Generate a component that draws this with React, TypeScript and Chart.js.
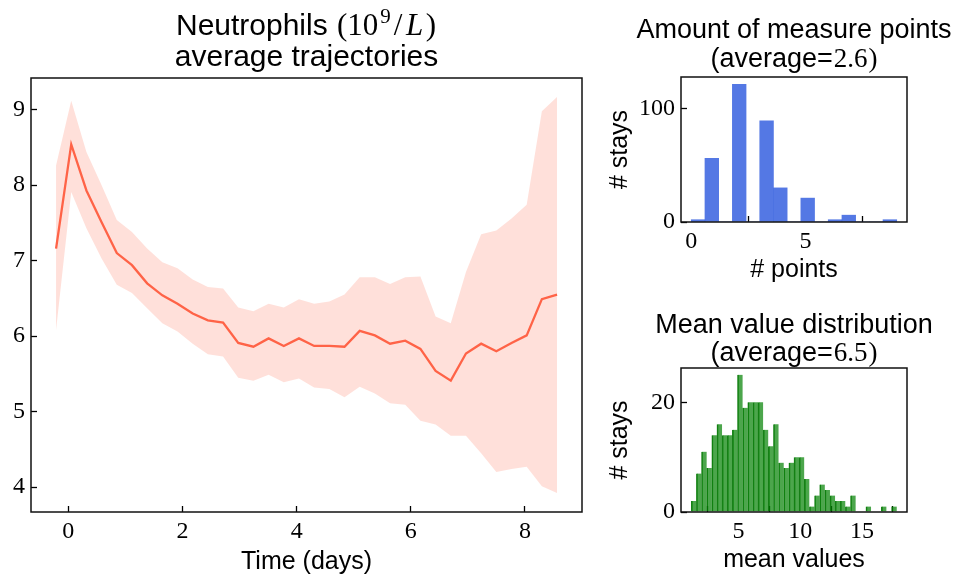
import React, { useEffect, useRef } from "react";
import { Chart, registerables } from "chart.js";

Chart.register(...registerables);

// ---------- data ----------
const timeDays = [
  -0.215, 0.051, 0.317, 0.583, 0.849, 1.115, 1.381, 1.647, 1.913, 2.179, 2.445, 2.711,
  2.977, 3.243, 3.509, 3.775, 4.041, 4.307, 4.573, 4.839, 5.105, 5.371, 5.637, 5.903,
  6.169, 6.435, 6.701, 6.967, 7.233, 7.499, 7.765, 8.031, 8.297, 8.563,
];
const meanValues = [
  7.16, 8.54, 7.93, 7.51, 7.1, 6.94, 6.7, 6.54, 6.43, 6.3, 6.21, 6.18, 5.91, 5.86, 5.97,
  5.87, 5.97, 5.87, 5.87, 5.86, 6.07, 6.01, 5.9, 5.94, 5.83, 5.54, 5.41, 5.77, 5.9, 5.8,
  5.91, 6.01, 6.49, 6.55,
];
const upperValues = [
  8.26, 9.12, 8.44, 8.0, 7.54, 7.38, 7.16, 6.98, 6.9, 6.75, 6.65, 6.63, 6.38, 6.33, 6.43,
  6.38, 6.49, 6.43, 6.46, 6.55, 6.78, 6.78, 6.69, 6.78, 6.79, 6.26, 6.17, 6.85, 7.35, 7.4,
  7.56, 7.74, 8.98, 9.17,
];
const lowerValues = [
  6.08, 7.91, 7.43, 7.03, 6.68, 6.57, 6.37, 6.17, 6.06, 5.9, 5.76, 5.73, 5.45, 5.41, 5.49,
  5.39, 5.44, 5.32, 5.3, 5.19, 5.33, 5.24, 5.11, 5.09, 4.88, 4.83, 4.68, 4.68, 4.45, 4.2,
  4.24, 4.27, 4.01, 3.92,
];
const timeTicks = [0, 2, 4, 6, 8];
const valueTicks = [4, 5, 6, 7, 8, 9];

const pointBins = [0.3, 0.9, 1.5, 2.1, 2.7, 3.3, 3.9, 4.5, 5.1, 5.7, 6.3, 6.9, 7.5, 8.1, 8.7];
const pointCounts = [2, 56, 0, 121, 0, 89, 30, 0, 21, 0, 2, 6, 0, 0, 2];
const pointXTicks = [0, 5];
const pointYTicks = [0, 100];

const meanBins = [
  1.388, 1.804, 2.22, 2.636, 3.052, 3.468, 3.884, 4.3, 4.716, 5.132, 5.548, 5.964, 6.38,
  6.796, 7.212, 7.628, 8.044, 8.46, 8.876, 9.292, 9.708, 10.124, 10.54, 10.956, 11.372,
  11.788, 12.204, 12.62, 13.036, 13.452, 13.868, 14.284, 14.7, 15.116, 15.532, 15.948,
  16.364, 16.78, 17.196, 17.612,
];
const meanCounts = [
  2, 7, 11, 8, 14, 16, 14, 14, 15, 25, 19, 20, 20, 20, 15, 12, 16, 9, 8, 9, 10, 10, 6, 1,
  3, 5, 4, 3, 2, 2, 1, 3, 0, 0, 1, 0, 0, 1, 0, 1,
];
const meanXTicks = [5, 10, 15];
const meanYTicks = [0, 20];

// ---------- styles ----------
const SANS = '"Liberation Sans", Arial, sans-serif';
const SERIF = '"Liberation Serif", "Times New Roman", serif';
const F_MAIN = `30px ${SANS}`;
const F_MAIN_M = `31px ${SERIF}`;
const F_MAIN_MI = `italic 31px ${SERIF}`;
const F_MAIN_SUP = `21px ${SERIF}`;
const F_SUB = `27px ${SANS}`;
const F_SUB_M = `27px ${SERIF}`;
const TOMATO = "#ff6347";
const BAND = "rgba(255,99,71,0.2)";
const BLUE = "rgba(65,105,225,0.9)";
const GREEN = "rgba(0,128,0,0.7)";
const GREEN_EDGE = "rgba(0,115,0,0.9)";

type Run = { text: string; font: string; dy?: number; dx?: number };
type TLine = { baseline: number; runs: Run[] };

function titlePlugin(id: string, lines: TLine[]) {
  return {
    id,
    afterDraw(chart: any) {
      const { ctx, chartArea } = chart;
      const cx = (chartArea.left + chartArea.right) / 2;
      ctx.save();
      ctx.fillStyle = "#000";
      ctx.textBaseline = "alphabetic";
      ctx.textAlign = "left";
      for (const line of lines) {
        let total = 0;
        const widths = line.runs.map((r) => {
          ctx.font = r.font;
          const w = ctx.measureText(r.text).width + (r.dx || 0);
          total += w;
          return w;
        });
        let x = cx - total / 2;
        line.runs.forEach((r, i) => {
          ctx.font = r.font;
          ctx.fillText(r.text, x + (r.dx || 0) / 2, line.baseline + (r.dy || 0));
          x += widths[i];
        });
      }
      ctx.restore();
    },
  };
}

const framePlugin = {
  id: "frame",
  afterDraw(chart: any) {
    const { ctx, chartArea: a } = chart;
    ctx.save();
    ctx.strokeStyle = "#111";
    ctx.lineWidth = 1.5;
    ctx.strokeRect(a.left, a.top, a.right - a.left, a.bottom - a.top);
    ctx.restore();
  },
};

function axis(
  kind: "x" | "y",
  min: number,
  max: number,
  ticks: number[],
  size: number,
  title?: { text: string; pad: number }
) {
  return {
    type: "linear",
    position: kind === "x" ? "bottom" : "left",
    min,
    max,
    offset: false,
    afterBuildTicks: (s: any) => {
      s.ticks = ticks.map((v) => ({ value: v }));
    },
    afterFit: (s: any) => {
      if (kind === "x") s.height = size;
      else s.width = size;
    },
    grid: {
      drawOnChartArea: false,
      drawTicks: true,
      tickLength: -6,
      tickWidth: 1.3,
      tickColor: "#000",
    },
    border: { display: false },
    ticks: {
      font: { family: SERIF, size: 24 },
      color: "#000",
      padding: kind === "x" ? 11 : 12,
      maxRotation: 0,
      autoSkip: false,
    },
    title: title
      ? {
          display: true,
          text: title.text,
          color: "#000",
          font: { family: SANS, size: 25 },
          padding: kind === "x" ? { top: 0, bottom: title.pad } : { top: title.pad, bottom: 0 },
        }
      : { display: false },
  };
}

const baseOptions = {
  responsive: false,
  animation: false,
  events: [],
  plugins: { legend: { display: false }, tooltip: { enabled: false }, title: { display: false } },
};

function mainConfig(): any {
  return {
    type: "line",
    data: {
      datasets: [
        {
          data: timeDays.map((x, i) => ({ x, y: meanValues[i] })),
          borderColor: TOMATO,
          borderWidth: 2.3,
          pointRadius: 0,
          fill: false,
          tension: 0,
        },
        {
          data: timeDays.map((x, i) => ({ x, y: lowerValues[i] })),
          borderWidth: 0,
          borderColor: "rgba(0,0,0,0)",
          pointRadius: 0,
          fill: false,
        },
        {
          data: timeDays.map((x, i) => ({ x, y: upperValues[i] })),
          borderWidth: 0,
          borderColor: "rgba(0,0,0,0)",
          backgroundColor: BAND,
          pointRadius: 0,
          fill: "-1",
        },
      ],
    },
    options: {
      ...baseOptions,
      layout: { padding: { top: 78, right: 18, left: 0, bottom: 0 } },
      scales: {
        x: axis("x", -0.654, 9.0, timeTicks, 67, { text: "Time (days)", pad: 2 }),
        y: axis("y", 3.67, 9.42, valueTicks, 31),
      },
    },
    plugins: [
      framePlugin,
      titlePlugin("mainTitle", [
        {
          baseline: 35,
          runs: [
            { text: "Neutrophils ", font: F_MAIN },
            { text: "(10", font: F_MAIN_M, dx: 2 },
            { text: "9", font: F_MAIN_SUP, dy: -12, dx: 2 },
            { text: "/", font: F_MAIN_M, dx: 4 },
            { text: "L", font: F_MAIN_MI, dx: 3 },
            { text: ")", font: F_MAIN_M, dx: 2 },
          ],
        },
        { baseline: 66, runs: [{ text: "average trajectories", font: F_MAIN }] },
      ]),
    ],
  };
}

function pointsConfig(): any {
  return {
    type: "bar",
    data: {
      datasets: [
        {
          data: pointBins.map((x, i) => ({ x, y: pointCounts[i] })),
          backgroundColor: BLUE,
          borderWidth: 0,
          barPercentage: 1,
          categoryPercentage: 1,
          grouped: false,
        },
      ],
    },
    options: {
      ...baseOptions,
      layout: { padding: { top: 77, right: 47, left: 0, bottom: 0 } },
      scales: {
        x: axis("x", -0.45, 9.45, pointXTicks, 68, { text: "# points", pad: 5 }),
        y: axis("y", 0, 127.5, pointYTicks, 81, { text: "# stays", pad: 5 }),
      },
    },
    plugins: [
      framePlugin,
      titlePlugin("pointsTitle", [
        { baseline: 38, runs: [{ text: "Amount of measure points", font: F_SUB }] },
        {
          baseline: 67,
          runs: [
            { text: "(average=", font: F_SUB },
            { text: "2.6", font: F_SUB_M, dx: 2 },
            { text: ")", font: F_SUB_M },
          ],
        },
      ]),
    ],
  };
}

function meanConfig(): any {
  return {
    type: "bar",
    data: {
      datasets: [
        {
          data: meanBins.map((x, i) => ({ x, y: meanCounts[i] })),
          backgroundColor: GREEN,
          borderColor: GREEN_EDGE,
          borderWidth: { left: 1, right: 0, top: 0, bottom: 0 },
          barPercentage: 1,
          categoryPercentage: 1,
          grouped: false,
        },
      ],
    },
    options: {
      ...baseOptions,
      layout: { padding: { top: 78, right: 47, left: 0, bottom: 0 } },
      scales: {
        x: axis("x", 0.35, 18.65, meanXTicks, 67, { text: "mean values", pad: 4 }),
        y: axis("y", 0, 26.25, meanYTicks, 81, { text: "# stays", pad: 5 }),
      },
    },
    plugins: [
      framePlugin,
      titlePlugin("meanTitle", [
        { baseline: 43, runs: [{ text: "Mean value distribution", font: F_SUB }] },
        {
          baseline: 71,
          runs: [
            { text: "(average=", font: F_SUB },
            { text: "6.5", font: F_SUB_M, dx: 2 },
            { text: ")", font: F_SUB_M },
          ],
        },
      ]),
    ],
  };
}

function ChartCanvas(props: {
  left: number;
  top: number;
  width: number;
  height: number;
  config: () => any;
}) {
  const ref = useRef<HTMLCanvasElement | null>(null);
  useEffect(() => {
    const chart = new Chart(ref.current as HTMLCanvasElement, props.config());
    return () => chart.destroy();
  }, []);
  return (
    <canvas
      ref={ref}
      width={props.width}
      height={props.height}
      style={{
        position: "absolute",
        left: props.left,
        top: props.top,
        width: props.width,
        height: props.height,
      }}
    />
  );
}

export default function App() {
  return (
    <div
      style={{
        position: "absolute",
        left: 0,
        top: 0,
        width: 954,
        height: 579,
        background: "#fff",
        overflow: "hidden",
      }}
    >
      <ChartCanvas left={0} top={0} width={600} height={579} config={mainConfig} />
      <ChartCanvas left={600} top={0} width={354} height={290} config={pointsConfig} />
      <ChartCanvas left={600} top={290} width={354} height={289} config={meanConfig} />
    </div>
  );
}
